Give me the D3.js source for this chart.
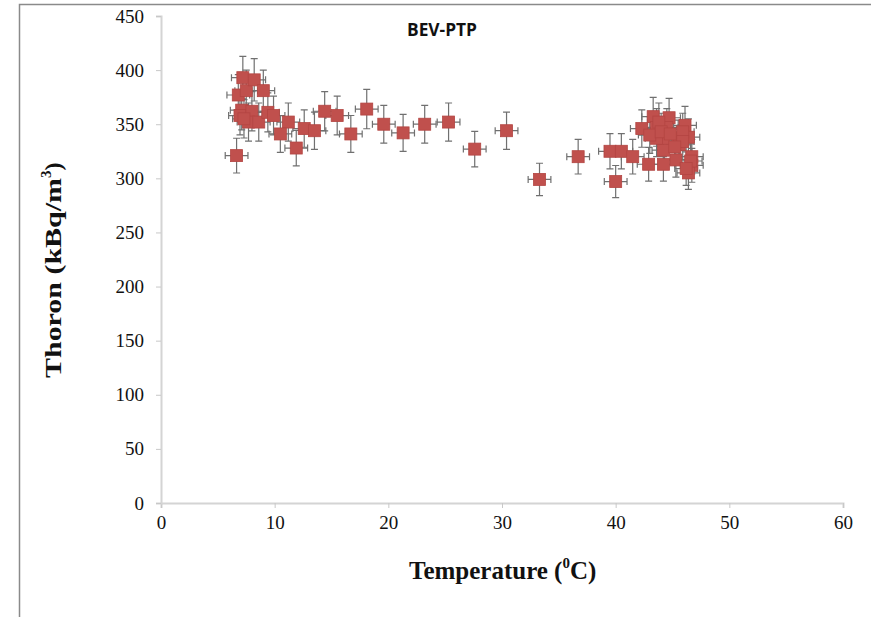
<!DOCTYPE html>
<html>
<head>
<meta charset="utf-8">
<title>BEV-PTP</title>
<style>
  body { margin: 0; background: #fff; }
  svg { display: block; }
</style>
</head>
<body>
<div id="chart"></div>
<script src="https://cdn.jsdelivr.net/npm/d3@7"></script>
<script>
// readings
var temperature = [6.65, 6.8, 7.2, 7.5, 8.2, 9.0, 7.1, 6.95, 8.0, 7.7, 8.6, 9.4, 9.9, 7.3,
  11.2, 10.5, 11.9, 12.6, 13.5, 14.4, 15.5, 16.7, 18.1, 19.6, 21.3, 23.2, 25.3, 27.6,
  30.4, 33.3, 36.7, 39.5, 40.5, 40.0, 41.5, 42.9, 44.2, 45.3, 42.3, 43.3, 44.7, 44.2,
  44.2, 43.6, 43.6, 44.5, 46.1, 45.5, 46.4, 46.7, 46.7, 46.4, 45.9, 43.0, 45.6, 43.8,
  44.0, 45.9, 46.6, 46.2, 44.8, 45.2];
var thoron = [321, 377, 393, 381, 391, 381, 363, 358, 362, 352, 352, 361, 358, 355,
  352, 341, 328, 346, 344, 362, 358, 341, 364, 350, 342, 350, 352, 327,
  344, 299, 320, 325, 325, 297, 320, 313, 313, 317, 346, 357, 356, 326,
  337, 337, 347, 347, 349, 337, 338, 320, 312, 305, 343, 340, 331, 352,
  343, 334, 316, 309, 341, 329];
var tempErr = 1.0;      // degC, each point
var thoronErrPct = 5;   // percent of value
var xTicks = [0, 10, 20, 30, 40, 50, 60];
var yTicks = [0, 50, 100, 150, 200, 250, 300, 350, 400, 450];

var W = 871, H = 617;
var svg = d3.select('#chart').append('svg').attr('width', W).attr('height', H);

// outer frame of the figure
svg.append('path')
  .attr('d', 'M19.5,' + H + ' V4.5 H' + W)
  .attr('fill', 'none').attr('stroke', '#8a8a8a').attr('stroke-width', 1.5);

var x = d3.scaleLinear().domain([0, 60]).range([161, 843]);
var y = d3.scaleLinear().domain([0, 450]).range([503, 16]);

var xAxis = svg.append('g').attr('transform', 'translate(0,503)')
  .call(d3.axisBottom(x).tickValues(xTicks).tickSize(5).tickPadding(8));
var yAxis = svg.append('g').attr('transform', 'translate(161,0)')
  .call(d3.axisLeft(y).tickValues(yTicks).tickSize(5).tickPadding(12));

[xAxis, yAxis].forEach(function(a){
  a.select('.domain').attr('stroke', '#d4d4d4').attr('stroke-width', 2);
  a.selectAll('.tick line').attr('stroke', '#c8c8c8');
  a.selectAll('.tick text')
    .attr('font-family', '"Liberation Serif", "Times New Roman", serif')
    .attr('font-size', 19).attr('fill', '#111');
});

var pts = temperature.map(function(t, i){ return { t: t, v: thoron[i] }; });

var errs = svg.append('g').attr('stroke', '#707070').attr('stroke-width', 1.2).attr('fill', 'none');
pts.forEach(function(d){
  var cx = x(d.t), cy = y(d.v);
  var dv = d.v * thoronErrPct / 100;
  var y0 = y(d.v - dv), y1 = y(d.v + dv);
  var x0 = x(d.t - tempErr), x1 = x(d.t + tempErr);
  errs.append('path').attr('d',
    'M' + cx + ',' + y0 + 'V' + y1 +
    'M' + (cx - 3.5) + ',' + y0 + 'H' + (cx + 3.5) +
    'M' + (cx - 3.5) + ',' + y1 + 'H' + (cx + 3.5) +
    'M' + x0 + ',' + cy + 'H' + x1 +
    'M' + x0 + ',' + (cy - 3.5) + 'V' + (cy + 3.5) +
    'M' + x1 + ',' + (cy - 3.5) + 'V' + (cy + 3.5));
});

svg.append('g').selectAll('rect')
  .data(pts).enter().append('rect')
  .attr('x', function(d){ return x(d.t) - 6; })
  .attr('y', function(d){ return y(d.v) - 6; })
  .attr('width', 12).attr('height', 12)
  .attr('fill', '#c0504d').attr('stroke', '#b34542').attr('stroke-width', 0.8);

// titles
svg.append('text').attr('x', 442).attr('y', 36).attr('text-anchor', 'middle')
  .attr('font-family', '"Open Sans", "Liberation Sans", sans-serif')
  .attr('font-weight', 'bold').attr('font-size', 17).attr('fill', '#111')
  .attr('textLength', 70).attr('lengthAdjust', 'spacingAndGlyphs')
  .text('BEV-PTP');

var serif = '"Liberation Serif", "Times New Roman", serif';
var xt = svg.append('text').attr('x', 409).attr('y', 579)
  .attr('font-family', serif).attr('font-weight', 'bold').attr('font-size', 25).attr('fill', '#111');
xt.append('tspan').text('Temperature (');
xt.append('tspan').attr('font-size', 15).attr('dy', -11).text('0');
xt.append('tspan').attr('dy', 11).text('C)');

var yt = svg.append('text').attr('transform', 'translate(61,378) rotate(-90)')
  .attr('font-family', serif).attr('font-weight', 'bold').attr('font-size', 24).attr('fill', '#111');
yt.append('tspan').attr('textLength', 200).attr('lengthAdjust', 'spacingAndGlyphs').text('Thoron (kBq/m');
yt.append('tspan').attr('font-size', 15).attr('dy', -10).text('3');
yt.append('tspan').attr('dy', 10).text(')');
</script>
</body>
</html>
